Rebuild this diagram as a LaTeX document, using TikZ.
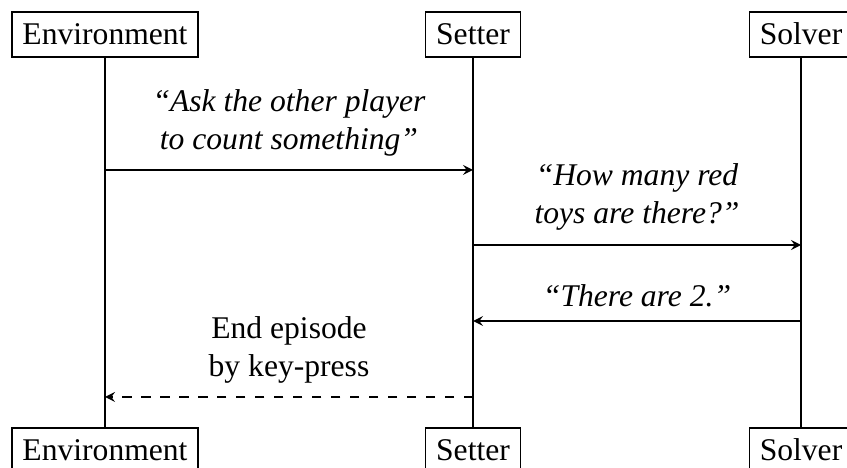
\documentclass[tikz,border=0pt]{standalone}
\usepackage{fontspec}
\setmainfont{Liberation Serif}
\usetikzlibrary{arrows,positioning}

\tikzset{
  actor/.style={draw, line width=0.4pt, inner sep=3.33pt, text height=7.06pt, text depth=0.5pt, font=\fontsize{10}{12}\selectfont},
  lifeline/.style={line width=0.4pt},
  msg/.style={line width=0.4pt, -stealth},
  reply/.style={line width=0.4pt, -stealth, dash pattern=on 3pt off 3pt},
  lbl/.style={align=center, inner sep=3.33pt, font=\fontsize{10}{12}\selectfont},
}

\begin{document}
\begin{tikzpicture}[x=0.3164pt, y=-0.3164pt]
  \useasboundingbox (0,0) rectangle (847,468);

  % participants, head and foot
  \node[actor] (envT) at (105,34.5) {Environment};
  \node[actor] (setT) at (473,34.5) {Setter};
  \node[actor] (solT) at (801,34.5) {Solver};
  \node[actor] (envB) at (105,450.5) {Environment};
  \node[actor] (setB) at (473,450.5) {Setter};
  \node[actor] (solB) at (801,450.5) {Solver};

  % lifelines
  \draw[lifeline] (envT) -- (envB);
  \draw[lifeline] (setT) -- (setB);
  \draw[lifeline] (solT) -- (solB);

  % message anchor points on the lifelines
  \coordinate (m1a) at (105,170);
  \coordinate (m1b) at (473,170);
  \coordinate (m2a) at (473,245);
  \coordinate (m2b) at (801,245);
  \coordinate (m3a) at (801,321);
  \coordinate (m3b) at (473,321);
  \coordinate (m4a) at (473,397);
  \coordinate (m4b) at (105,397);

  % messages
  \draw[msg] (m1a) -- (m1b)
    node[lbl, midway, above=0.8pt] (t1) {\itshape “Ask the other player\\\itshape to count something”};
  \draw[msg] (m2a) -- (m2b)
    node[lbl, midway, above=1.2pt] (t2) {\itshape “How many red\\\itshape toys are there?”};
  \draw[msg] (m3a) -- (m3b)
    node[lbl, midway, above=0.8pt] (t3) {\itshape “There are 2.”};
  \draw[reply] (m4a) -- (m4b)
    node[lbl, midway, above=0.8pt] (t4) {End episode\\by key-press};
\end{tikzpicture}
\end{document}
